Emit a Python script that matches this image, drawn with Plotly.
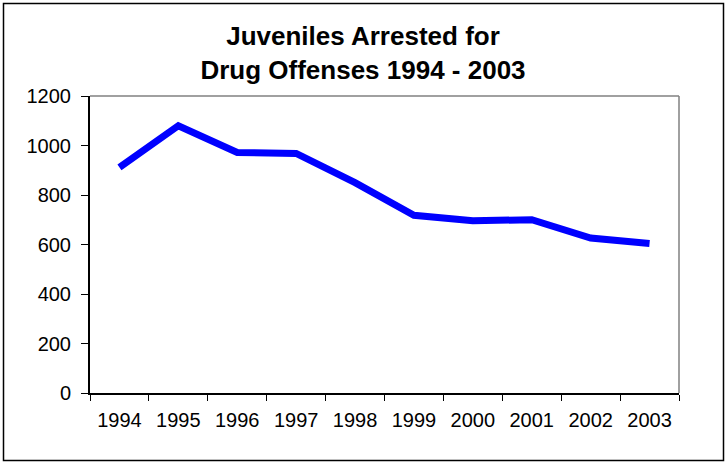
import plotly.graph_objects as go

years = ["1994", "1995", "1996", "1997", "1998", "1999", "2000", "2001", "2002", "2003"]
arrests = [912, 1080, 972, 968, 850, 718, 696, 700, 626, 604]
y_ticks = [0, 200, 400, 600, 800, 1000, 1200]
title_text = "Juveniles Arrested for<br>Drug Offenses 1994 - 2003"

W, H = 726, 464
L, R, T, B = 90, 47, 96, 71
pw, ph = W - L - R, H - T - B

def px_x(x):
    return (x - L) / pw

def px_y(y):
    return (H - B - y) / ph

fig = go.Figure()
fig.add_trace(go.Scatter(
    x=years, y=arrests, mode="lines",
    line=dict(color="#0000FF", width=7),
    hoverinfo="x+y",
))

font_family = "Liberation Sans, Arial, sans-serif"

fig.update_layout(
    width=W, height=H,
    margin=dict(l=L, r=R, t=T, b=B),
    paper_bgcolor="white", plot_bgcolor="white",
    showlegend=False,
    title=dict(
        text="<b>" + title_text + "</b>",
        font=dict(family=font_family, size=26, color="black"),
        x=0.5, xref="container", xanchor="center",
        y=1 - 45 / H, yref="container", yanchor="top",
    ),
    xaxis=dict(
        type="category",
        showgrid=False, zeroline=False,
        showline=True, linecolor="black", linewidth=1.5,
        ticks="outside", tickson="boundaries", ticklen=6, tickcolor="black", tickwidth=1,
        tickfont=dict(family=font_family, size=20, color="black"),
        ticklabelstandoff=8,
        range=[-0.5, len(years) - 0.5],
    ),
    yaxis=dict(
        range=[0, 1200],
        tickvals=y_ticks,
        showgrid=False, zeroline=False,
        showline=True, linecolor="black", linewidth=2,
        ticks="outside", ticklen=7, tickcolor="black", tickwidth=1,
        tickfont=dict(family=font_family, size=20, color="black"),
        ticklabelstandoff=6,
    ),
    shapes=[
        # gray plot-area border (top and right)
        dict(type="line", xref="paper", yref="paper", x0=0, x1=1, y0=1, y1=1,
             line=dict(color="#808080", width=1.5)),
        dict(type="line", xref="paper", yref="paper", x0=1, x1=1, y0=0, y1=1,
             line=dict(color="#808080", width=1.5)),
        # outer chart border
        dict(type="rect", xref="paper", yref="paper",
             x0=px_x(3.5), x1=px_x(723.5), y0=px_y(460.5), y1=px_y(3.5),
             line=dict(color="black", width=1.5), fillcolor="rgba(0,0,0,0)", layer="below"),
    ],
)

fig.write_html("out.html")
